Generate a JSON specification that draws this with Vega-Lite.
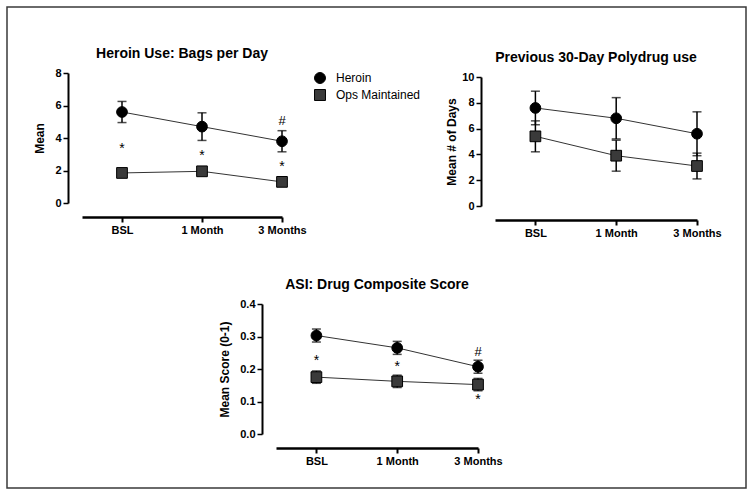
{
  "$schema": "https://vega.github.io/schema/vega-lite/v6.json",
  "padding": {"left": 7, "top": 7, "right": 6, "bottom": 5},
  "background": "white",
  "datasets": {
    "bags": [
      {"time": "BSL", "group": "Heroin", "mean": 5.6, "lo": 4.95, "hi": 6.25},
      {"time": "1 Month", "group": "Heroin", "mean": 4.7, "lo": 3.85, "hi": 5.55},
      {"time": "3 Months", "group": "Heroin", "mean": 3.8, "lo": 3.15, "hi": 4.45},
      {"time": "BSL", "group": "Ops Maintained", "mean": 1.85, "lo": 1.65, "hi": 2.05},
      {"time": "1 Month", "group": "Ops Maintained", "mean": 1.95, "lo": 1.75, "hi": 2.15},
      {"time": "3 Months", "group": "Ops Maintained", "mean": 1.3, "lo": 1.1, "hi": 1.5}
    ],
    "bags_notes": [
      {"time": "BSL", "label": "*", "y": 3.5},
      {"time": "1 Month", "label": "*", "y": 3.05},
      {"time": "3 Months", "label": "*", "y": 2.4},
      {"time": "3 Months", "label": "#", "y": 5.05}
    ],
    "poly": [
      {"time": "BSL", "group": "Heroin", "mean": 7.6, "lo": 6.3, "hi": 8.9},
      {"time": "1 Month", "group": "Heroin", "mean": 6.8, "lo": 5.2, "hi": 8.4},
      {"time": "3 Months", "group": "Heroin", "mean": 5.6, "lo": 3.9, "hi": 7.3},
      {"time": "BSL", "group": "Ops Maintained", "mean": 5.4, "lo": 4.2, "hi": 6.6},
      {"time": "1 Month", "group": "Ops Maintained", "mean": 3.9, "lo": 2.7, "hi": 5.1},
      {"time": "3 Months", "group": "Ops Maintained", "mean": 3.1, "lo": 2.1, "hi": 4.1}
    ],
    "asi": [
      {"time": "BSL", "group": "Heroin", "mean": 0.303, "lo": 0.283, "hi": 0.323},
      {"time": "1 Month", "group": "Heroin", "mean": 0.265, "lo": 0.245, "hi": 0.285},
      {"time": "3 Months", "group": "Heroin", "mean": 0.207, "lo": 0.187, "hi": 0.227},
      {"time": "BSL", "group": "Ops Maintained", "mean": 0.175, "lo": 0.156, "hi": 0.194},
      {"time": "1 Month", "group": "Ops Maintained", "mean": 0.162, "lo": 0.143, "hi": 0.181},
      {"time": "3 Months", "group": "Ops Maintained", "mean": 0.152, "lo": 0.133, "hi": 0.171}
    ],
    "asi_notes": [
      {"time": "BSL", "label": "*", "y": 0.234},
      {"time": "1 Month", "label": "*", "y": 0.215},
      {"time": "3 Months", "label": "*", "y": 0.115},
      {"time": "3 Months", "label": "#", "y": 0.253}
    ],
    "frame": [{"v": 0}, {"v": 1}]
  },
  "bounds": "flush",
  "spacing": 231,
  "vconcat": [
    {
      "bounds": "flush",
      "spacing": 0,
      "hconcat": [
        {
          "width": 75, "height": 1,
          "data": {"name": "frame"},
          "mark": {"type": "point", "size": 0, "opacity": 0},
          "encoding": {
            "stroke": {"field": "v", "type": "quantitative", "scale": {"range": ["rgba(255,255,255,0)", "rgba(255,255,255,0)"]},
              "legend": {"type": "gradient", "title": null, "orient": "none", "legendX": 0, "legendY": -66, "padding": 0, "direction": "horizontal", "gradientLength": 739, "gradientThickness": 481, "gradientStrokeColor": "#3a3a3a", "gradientStrokeWidth": 1.5, "labelOpacity": 0, "labelFontSize": 1, "labelOffset": 0, "tickCount": 2}}
          }
        },
        {
          "width": 200,
          "height": 130,
          "title": {"text": "Heroin Use: Bags per Day"},
          "data": {"name": "bags"},
          "encoding": {
            "x": {"field": "time", "type": "ordinal", "scale": {"type": "point", "domain": ["BSL", "1 Month", "3 Months"], "padding": 0.25, "align": 1}, "axis": {"title": null, "labelAngle": 0}},
            "y": {"field": "mean", "type": "quantitative", "scale": {"domain": [0, 8], "nice": false, "zero": true}, "axis": {"title": "Mean", "values": [0, 2, 4, 6, 8], "titlePadding": 8}}
          },
          "layer": [
            {"mark": {"type": "line", "color": "#333333", "strokeWidth": 1}, "encoding": {"detail": {"field": "group"}}},
            {"mark": {"type": "rule", "color": "black", "strokeWidth": 1.5}, "encoding": {"y": {"field": "lo", "type": "quantitative"}, "y2": {"field": "hi"}}},
            {"mark": {"type": "tick", "color": "black", "size": 9, "thickness": 1.5}, "encoding": {"y": {"field": "lo", "type": "quantitative"}}},
            {"mark": {"type": "tick", "color": "black", "size": 9, "thickness": 1.5}, "encoding": {"y": {"field": "hi", "type": "quantitative"}}},
            {
              "mark": {"type": "point", "filled": true, "size": 115, "stroke": "black", "strokeWidth": 1, "opacity": 1},
              "encoding": {
                "color": {"field": "group", "type": "nominal", "scale": {"domain": ["Heroin", "Ops Maintained"], "range": ["#000000", "#3a3a3a"]}, "legend": {"title": null, "orient": "none", "legendX": 307, "legendY": -1, "symbolSize": 120, "symbolStrokeColor": "black", "symbolStrokeWidth": 1, "labelOffset": 10, "rowPadding": 1, "padding": 0}},
                "shape": {"field": "group", "type": "nominal", "scale": {"domain": ["Heroin", "Ops Maintained"], "range": ["circle", "square"]}, "legend": {"title": null, "orient": "none", "legendX": 307, "legendY": -1, "symbolSize": 120, "symbolStrokeColor": "black", "symbolStrokeWidth": 1, "labelOffset": 10, "rowPadding": 1, "padding": 0}}
              }
            },
            {"data": {"name": "bags_notes"}, "transform": [{"filter": "datum.label === '*'"}], "mark": {"type": "text", "fontSize": 14, "font": "Liberation Sans", "color": "black", "baseline": "middle", "dy": 3}, "encoding": {"y": {"field": "y", "type": "quantitative"}, "text": {"field": "label"}}},
            {"data": {"name": "bags_notes"}, "transform": [{"filter": "datum.label === '#'"}], "mark": {"type": "text", "fontSize": 13, "font": "Liberation Sans", "color": "black", "baseline": "middle", "dy": 0}, "encoding": {"y": {"field": "y", "type": "quantitative"}, "text": {"field": "label"}}}
          ]
        },
        {"width": 213, "height": 1, "data": {"values": [{}]}, "mark": {"type": "point", "opacity": 0}, "encoding": {}},
        {
          "bounds": "flush",
          "spacing": 3,
          "vconcat": [
            {"width": 1, "height": 1, "data": {"values": [{}]}, "mark": {"type": "point", "opacity": 0}, "encoding": {}},
            {
              "width": 202,
              "height": 129,
              "title": {"text": "Previous 30-Day Polydrug use"},
              "data": {"name": "poly"},
              "encoding": {
                "x": {"field": "time", "type": "ordinal", "scale": {"type": "point", "domain": ["BSL", "1 Month", "3 Months"], "padding": 0.25, "align": 1}, "axis": {"title": null, "labelAngle": 0}},
                "y": {"field": "mean", "type": "quantitative", "scale": {"domain": [0, 10], "nice": false, "zero": true}, "axis": {"title": "Mean # of Days", "values": [0, 2, 4, 6, 8, 10], "titlePadding": 3}}
              },
              "layer": [
                {"mark": {"type": "line", "color": "#333333", "strokeWidth": 1}, "encoding": {"detail": {"field": "group"}}},
                {"mark": {"type": "rule", "color": "black", "strokeWidth": 1.5}, "encoding": {"y": {"field": "lo", "type": "quantitative"}, "y2": {"field": "hi"}}},
                {"mark": {"type": "tick", "color": "black", "size": 9, "thickness": 1.5}, "encoding": {"y": {"field": "lo", "type": "quantitative"}}},
                {"mark": {"type": "tick", "color": "black", "size": 9, "thickness": 1.5}, "encoding": {"y": {"field": "hi", "type": "quantitative"}}},
                {
                  "mark": {"type": "point", "filled": true, "size": 115, "stroke": "black", "strokeWidth": 1, "opacity": 1},
                  "encoding": {
                    "color": {"field": "group", "type": "nominal", "legend": {"title": null}},
                    "shape": {"field": "group", "type": "nominal", "legend": {"title": null}}
                  }
                }
              ]
            }
          ]
        }
      ]
    },
    {
      "bounds": "flush",
      "spacing": 0,
      "hconcat": [
        {"width": 269, "height": 1, "data": {"values": [{}]}, "mark": {"type": "point", "opacity": 0}, "encoding": {}},
        {
          "width": 202,
          "height": 130,
          "title": {"text": "ASI:  Drug Composite Score"},
          "data": {"name": "asi"},
          "encoding": {
            "x": {"field": "time", "type": "ordinal", "scale": {"type": "point", "domain": ["BSL", "1 Month", "3 Months"], "padding": 0.25, "align": 1}, "axis": {"title": null, "labelAngle": 0}},
            "y": {"field": "mean", "type": "quantitative", "scale": {"domain": [0, 0.4], "nice": false, "zero": true}, "axis": {"title": "Mean Score (0-1)", "values": [0, 0.1, 0.2, 0.3, 0.4], "format": ".1f", "titlePadding": 8}}
          },
          "layer": [
            {"mark": {"type": "line", "color": "#333333", "strokeWidth": 1}, "encoding": {"detail": {"field": "group"}}},
            {"mark": {"type": "rule", "color": "black", "strokeWidth": 1.5}, "encoding": {"y": {"field": "lo", "type": "quantitative"}, "y2": {"field": "hi"}}},
            {"mark": {"type": "tick", "color": "black", "size": 9, "thickness": 1.5}, "encoding": {"y": {"field": "lo", "type": "quantitative"}}},
            {"mark": {"type": "tick", "color": "black", "size": 9, "thickness": 1.5}, "encoding": {"y": {"field": "hi", "type": "quantitative"}}},
            {
              "mark": {"type": "point", "filled": true, "size": 115, "stroke": "black", "strokeWidth": 1, "opacity": 1},
              "encoding": {
                "color": {"field": "group", "type": "nominal", "legend": {"title": null}},
                "shape": {"field": "group", "type": "nominal", "legend": {"title": null}}
              }
            },
            {"data": {"name": "asi_notes"}, "transform": [{"filter": "datum.label === '*'"}], "mark": {"type": "text", "fontSize": 14, "font": "Liberation Sans", "color": "black", "baseline": "middle", "dy": 3}, "encoding": {"y": {"field": "y", "type": "quantitative"}, "text": {"field": "label"}}},
            {"data": {"name": "asi_notes"}, "transform": [{"filter": "datum.label === '#'"}], "mark": {"type": "text", "fontSize": 13, "font": "Liberation Sans", "color": "black", "baseline": "middle", "dy": 0}, "encoding": {"y": {"field": "y", "type": "quantitative"}, "text": {"field": "label"}}}
          ]
        }
      ]
    }
  ],
  "config": {
    "view": {"stroke": null},
    "title": {"font": "Liberation Sans", "fontSize": 14, "fontWeight": "bold", "color": "#000000", "anchor": "middle", "offset": 6},
    "axis": {"labelFont": "Liberation Sans", "labelFontWeight": "bold", "labelFontSize": 11, "labelColor": "#000000", "titleFont": "Liberation Sans", "titleFontSize": 12, "titleFontWeight": "bold", "titleColor": "#000000", "domainColor": "#000000", "tickColor": "#000000", "grid": false, "tickSize": 5, "offset": 14},
    "axisX": {"domainWidth": 2.5, "tickWidth": 2, "labelPadding": 2},
    "axisY": {"domainWidth": 2, "tickWidth": 1.5, "labelPadding": 2},
    "legend": {"labelFont": "Liberation Sans", "labelFontSize": 12, "labelColor": "#000000"}
  }
}
